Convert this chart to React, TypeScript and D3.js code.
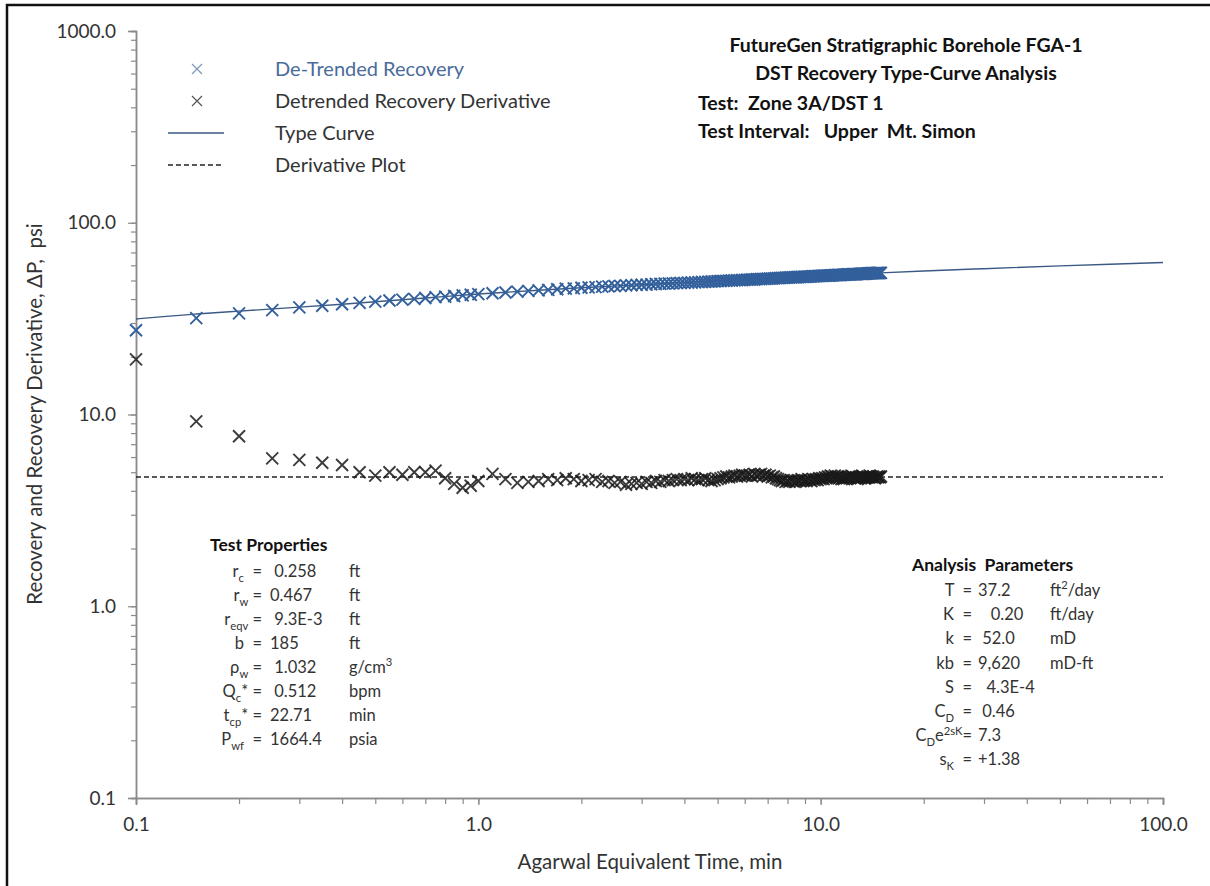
import React, { useEffect, useRef } from 'react';
import * as d3 from 'd3';

const W = 1210;
const H = 886;

// Agarwal equivalent time, min
const recTime = [
  0.1, 0.15, 0.2, 0.25, 0.3, 0.35, 0.4, 0.45, 0.5, 0.55, 0.6, 0.65, 0.7, 0.75, 0.8, 0.85, 0.9, 0.95,
  1.0, 1.1, 1.2, 1.3, 1.4, 1.5, 1.6, 1.7, 1.8, 1.9, 2.0, 2.1, 2.2, 2.3, 2.4, 2.5, 2.6, 2.7, 2.8, 2.9,
  3.0, 3.1, 3.2, 3.3, 3.4, 3.5, 3.6, 3.7, 3.8, 3.9, 4.0, 4.1, 4.2, 4.3, 4.4, 4.5, 4.6, 4.7, 4.8, 4.9,
  5.0, 5.1, 5.2, 5.3, 5.4, 5.5, 5.6, 5.7, 5.8, 5.9, 6.0,
  6.1, 6.2, 6.3, 6.4, 6.5, 6.6, 6.7, 6.8, 6.9, 7.0, 7.1, 7.2, 7.3, 7.4, 7.5, 7.6, 7.7, 7.8, 7.9, 8.0,
  8.1, 8.2, 8.3, 8.4, 8.5, 8.6, 8.7, 8.8, 8.9, 9.0, 9.1, 9.2, 9.3, 9.4, 9.5, 9.6, 9.7, 9.8, 9.9, 10.0,
  10.1, 10.2, 10.3, 10.4, 10.5, 10.6, 10.7, 10.8, 10.9, 11.0, 11.1, 11.2, 11.3, 11.4, 11.5, 11.6, 11.7, 11.8, 11.9, 12.0,
  12.1, 12.2, 12.3, 12.4, 12.5, 12.6, 12.7, 12.8, 12.9, 13.0, 13.1, 13.2, 13.3, 13.4, 13.5, 13.6, 13.7, 13.8, 13.9, 14.0,
  14.1, 14.2, 14.3, 14.4, 14.5, 14.6, 14.7, 14.8, 14.9, 15.0
];

// de-trended recovery, psi
const recDP = [
  27.5, 31.8, 33.7, 35.0, 36.2, 36.9, 37.6, 38.2, 38.8, 39.3, 39.7, 40.1, 40.5, 40.9, 41.2, 41.5, 41.8, 42.1,
  42.4, 42.9, 43.3, 43.7, 44.1, 44.4, 44.7, 45.0, 45.3, 45.5, 45.8, 46.0, 46.2, 46.4, 46.6, 46.8, 46.9, 47.1, 47.2, 47.4,
  47.5, 47.6, 47.8, 47.9, 48.0, 48.1, 48.2, 48.3, 48.4, 48.5, 48.6, 48.7, 48.8, 48.9, 49.0, 49.1, 49.2, 49.3, 49.4, 49.5,
  49.6, 49.7, 49.8, 49.8, 49.9, 50.0, 50.1, 50.2, 50.2, 50.3, 50.4,
  50.5, 50.5, 50.6, 50.6, 50.8, 50.8, 50.9, 51.0, 51.0, 51.1, 51.2, 51.2, 51.3, 51.4, 51.4, 51.5, 51.6, 51.6, 51.7, 51.7,
  51.8, 51.9, 51.9, 52.0, 52.0, 52.1, 52.1, 52.2, 52.2, 52.3, 52.3, 52.4, 52.4, 52.5, 52.6, 52.6, 52.7, 52.7, 52.8, 52.8,
  52.9, 52.9, 53.0, 53.0, 53.0, 53.1, 53.1, 53.2, 53.2, 53.3, 53.3, 53.4, 53.4, 53.4, 53.5, 53.5, 53.6, 53.6, 53.7, 53.7,
  53.7, 53.8, 53.8, 53.9, 53.9, 53.9, 54.0, 54.0, 54.1, 54.1, 54.1, 54.2, 54.2, 54.2, 54.3, 54.3, 54.4, 54.4, 54.4, 54.5,
  54.5, 54.5, 54.6, 54.6, 54.6, 54.7, 54.7, 54.7, 54.8, 54.8
];

// detrended recovery derivative, psi
const derivDP = [
  19.4, 9.2, 7.7, 5.9, 5.8, 5.6, 5.45, 5.0, 4.8, 5.0, 4.85, 5.0, 5.0, 5.1, 4.65, 4.35, 4.15, 4.25,
  4.5, 4.9, 4.6, 4.4, 4.45, 4.5, 4.6, 4.55, 4.65, 4.6, 4.5, 4.55, 4.6, 4.45, 4.5, 4.4, 4.45, 4.3, 4.35, 4.4,
  4.35, 4.45, 4.4, 4.5, 4.45, 4.55, 4.5, 4.55, 4.6, 4.55, 4.6, 4.55, 4.65, 4.6, 4.55, 4.6, 4.65, 4.55, 4.5, 4.55,
  4.6, 4.65, 4.7, 4.75, 4.7, 4.75, 4.8, 4.75, 4.8, 4.85, 4.8,
  4.8, 4.85, 4.75, 4.9, 4.8, 4.85, 4.9, 4.8, 4.85, 4.75, 4.8, 4.7, 4.75, 4.65, 4.6, 4.55, 4.5, 4.55, 4.45, 4.5,
  4.45, 4.55, 4.5, 4.45, 4.5, 4.55, 4.5, 4.6, 4.5, 4.55, 4.5, 4.6, 4.55, 4.5, 4.6, 4.55, 4.6, 4.55, 4.65, 4.6,
  4.65, 4.6, 4.7, 4.65, 4.75, 4.7, 4.8, 4.75, 4.7, 4.8, 4.7, 4.75, 4.65, 4.7, 4.6, 4.65, 4.6, 4.7, 4.65, 4.7,
  4.75, 4.7, 4.8, 4.75, 4.7, 4.65, 4.7, 4.6, 4.65, 4.7, 4.65, 4.7, 4.75, 4.7, 4.65, 4.7, 4.75, 4.7, 4.8, 4.75,
  4.7, 4.75, 4.7, 4.65, 4.7, 4.75, 4.7, 4.75, 4.7, 4.75
];

// type curve
const curveTime = [0.1, 0.12, 0.15, 0.2, 0.3, 0.4, 0.5, 0.7, 1, 1.5, 2, 3, 5, 7, 10, 15, 20, 30, 50, 70, 100];
const curveDP = [31.5, 32.4, 33.4, 34.6, 36.3, 37.6, 38.7, 40.5, 42.5, 44.5, 45.8, 47.5, 49.8, 51.3, 53.0, 54.8, 56.0, 57.6, 59.6, 60.8, 62.0];

// derivative plot (flat)
const derivLineTime = [0.1, 100];
const derivLineDP = [4.72, 4.72];

const xTicks = [0.1, 1, 10, 100];
const yTicks = [0.1, 1, 10, 100, 1000];

const NB = '\u00a0';
const legendLabels = ['De-Trended Recovery', 'Detrended Recovery Derivative', 'Type Curve', 'Derivative Plot'];
const titleLines = ['FutureGen Stratigraphic Borehole FGA-1', 'DST Recovery Type-Curve Analysis'];
const testLines = [`Test:${NB} Zone 3A/DST 1`, `Test Interval:${NB}${NB} Upper${NB} Mt. Simon`];

// [text, 'n' | 'sub' | 'sup'] parts
type Part = [string, string];
const testPropLabels: Part[][] = [
  [['r', 'n'], ['c', 'sub'], [`${NB} =`, 'n']],
  [['r', 'n'], ['w', 'sub'], [' =', 'n']],
  [['r', 'n'], ['eqv', 'sub'], [' =', 'n']],
  [[`b${NB} =`, 'n']],
  [['ρ', 'n'], ['w', 'sub'], [' =', 'n']],
  [['Q', 'n'], ['c', 'sub'], ['* =', 'n']],
  [['t', 'n'], ['cp', 'sub'], ['* =', 'n']],
  [['P', 'n'], ['wf', 'sub'], [`${NB} =`, 'n']]
];
const testPropValues = [`${NB}0.258`, '0.467', `${NB}9.3E-3`, '185', `${NB}1.032`, `${NB}0.512`, '22.71', '1664.4'];
const testPropUnits: Part[][] = [
  [['ft', 'n']], [['ft', 'n']], [['ft', 'n']], [['ft', 'n']],
  [['g/cm', 'n'], ['3', 'sup']], [['bpm', 'n']], [['min', 'n']], [['psia', 'n']]
];

const analysisLabels: Part[][] = [
  [[`T${NB} =`, 'n']],
  [[`K${NB} =`, 'n']],
  [[`k${NB} =`, 'n']],
  [[`kb${NB} =`, 'n']],
  [[`S${NB} =`, 'n']],
  [['C', 'n'], ['D', 'sub'], [`${NB} =`, 'n']],
  [['C', 'n'], ['D', 'sub'], ['e', 'n'], ['2sK', 'sup'], ['=', 'n']],
  [['s', 'n'], ['K', 'sub'], [`${NB} =`, 'n']]
];
const analysisValues = ['37.2', `${NB}${NB}${NB}0.20`, `${NB}52.0`, '9,620', `${NB}${NB}4.3E-4`, `${NB}0.46`, '7.3', '+1.38'];
const analysisUnits: Part[][] = [
  [['ft', 'n'], ['2', 'sup'], ['/day', 'n']], [['ft/day', 'n']], [['mD', 'n']], [['mD-ft', 'n']], [], [], [], []
];

const FONT = 'Lato, "Open Sans", sans-serif';
const TEXT = '#333';
const BLUE = '#33609c';

function addParts(text: any, parts: Part[], size: number) {
  let shift = 0;
  parts.forEach(([s, k]) => {
    const target = k === 'sub' ? size * 0.3 : k === 'sup' ? -size * 0.4 : 0;
    const t = text.append('tspan').attr('dy', target - shift).text(s);
    if (k !== 'n') t.attr('font-size', size * 0.68);
    shift = target;
  });
}

export default function App() {
  const ref = useRef<SVGSVGElement>(null);

  useEffect(() => {
    const svg = d3.select(ref.current);
    svg.selectAll('*').remove();

    const x = d3.scaleLog().domain([0.1, 100]).range([136, 1163]);
    const y = d3.scaleLog().domain([0.1, 1000]).range([798, 31]);

    svg.append('rect').attr('width', W).attr('height', H).attr('fill', '#fff');
    // frame
    svg.append('path').attr('d', `M7,${H}V5H${W}`).attr('fill', 'none').attr('stroke', '#111').attr('stroke-width', 2.5);

    // axes: minor ticks
    const gxMinor = svg.append('g').attr('transform', `translate(0,${y(0.1)})`)
      .call(d3.axisBottom(x).tickValues(x.ticks()).tickSize(6).tickFormat(() => ''));
    const gyMinor = svg.append('g').attr('transform', `translate(${x(0.1)},0)`)
      .call(d3.axisLeft(y).tickValues(y.ticks()).tickSize(5).tickFormat(() => ''));
    // major ticks with labels
    const gx = svg.append('g').attr('transform', `translate(0,${y(0.1)})`)
      .call(d3.axisBottom(x).tickValues(xTicks).tickSize(7).tickPadding(13).tickFormat(d3.format('.1f') as any));
    const gy = svg.append('g').attr('transform', `translate(${x(0.1)},0)`)
      .call(d3.axisLeft(y).tickValues(yTicks).tickSize(8).tickPadding(12).tickFormat(d3.format('.1f') as any));

    [gxMinor, gyMinor, gx, gy].forEach(g => {
      g.select('.domain').attr('stroke', '#8a8a8a').attr('stroke-width', 1.5);
      g.selectAll('.tick line').attr('stroke', '#8a8a8a').attr('stroke-width', 1.2);
      g.selectAll('.tick text').attr('fill', TEXT).attr('font-family', FONT).attr('font-size', 19);
    });

    // axis titles
    svg.append('text').attr('x', 650).attr('y', 869).attr('text-anchor', 'middle')
      .attr('font-family', FONT).attr('font-size', 20.5).attr('fill', TEXT)
      .text('Agarwal Equivalent Time, min');
    svg.append('text').attr('transform', 'translate(42,414) rotate(-90)').attr('text-anchor', 'middle')
      .attr('font-family', FONT).attr('font-size', 20.5).attr('fill', TEXT)
      .text(`Recovery and Recovery Derivative, ΔP,${NB} psi`);

    // type curve + derivative plot line
    const line = d3.line<number>()
      .x((_, i) => x(curveTime[i]))
      .y(d => y(d))
      .curve(d3.curveMonotoneX);
    svg.append('path').attr('d', line(curveDP)).attr('fill', 'none').attr('stroke', '#3a5a85').attr('stroke-width', 1.4);

    const dline = d3.line<number>().x((_, i) => x(derivLineTime[i])).y(d => y(d));
    svg.append('path').attr('d', dline(derivLineDP)).attr('fill', 'none').attr('stroke', '#222')
      .attr('stroke-width', 1.3).attr('stroke-dasharray', '5,3');

    const cross = 'M-6,-6L6,6M-6,6L6,-6';
    svg.append('g').selectAll('path').data(recDP).enter().append('path')
      .attr('transform', (d, i) => `translate(${x(recTime[i])},${y(d)})`)
      .attr('d', cross).attr('fill', 'none').attr('stroke', BLUE).attr('stroke-width', 1.9);
    svg.append('g').selectAll('path').data(derivDP).enter().append('path')
      .attr('transform', (d, i) => `translate(${x(recTime[i])},${y(d)})`)
      .attr('d', cross).attr('fill', 'none').attr('stroke', '#1a1a1a').attr('stroke-opacity', 0.85).attr('stroke-width', 1.9);

    // legend
    const lg = svg.append('g').attr('font-family', FONT).attr('font-size', 20);
    const rowY = (i: number) => 69 + i * 32;
    lg.append('path').attr('transform', `translate(197,${rowY(0)})`).attr('d', 'M-5,-5L5,5M-5,5L5,-5')
      .attr('stroke', '#7a98bd').attr('stroke-width', 1.2);
    lg.append('path').attr('transform', `translate(197,${rowY(1)})`).attr('d', 'M-5,-5L5,5M-5,5L5,-5')
      .attr('stroke', '#555').attr('stroke-width', 1.2);
    lg.append('line').attr('x1', 168).attr('x2', 224).attr('y1', rowY(2)).attr('y2', rowY(2))
      .attr('stroke', '#3a5a85').attr('stroke-width', 1.4);
    lg.append('line').attr('x1', 168).attr('x2', 224).attr('y1', rowY(3)).attr('y2', rowY(3))
      .attr('stroke', '#222').attr('stroke-width', 1.3).attr('stroke-dasharray', '5,3');
    legendLabels.forEach((s, i) => {
      lg.append('text').attr('x', 275).attr('y', rowY(i)).attr('dy', '0.35em')
        .attr('fill', i === 0 ? '#4a6c9b' : TEXT).text(s);
    });

    // title block
    const tg = svg.append('g').attr('font-family', FONT).attr('font-weight', 'bold').attr('font-size', 19.5)
      .attr('fill', '#111');
    titleLines.forEach((s, i) => {
      tg.append('text').attr('x', 906).attr('y', 52 + i * 28).attr('text-anchor', 'middle').text(s);
    });
    testLines.forEach((s, i) => {
      tg.append('text').attr('x', 698).attr('y', 110 + i * 28).text(s);
    });

    // test properties
    const pg = svg.append('g').attr('font-family', FONT).attr('font-size', 16.5).attr('fill', TEXT);
    pg.append('text').attr('x', 210).attr('y', 551).attr('font-weight', 'bold').attr('font-size', 17.5)
      .attr('fill', '#111').text('Test Properties');
    testPropLabels.forEach((parts, i) => {
      const yy = 577 + i * 24;
      addParts(pg.append('text').attr('x', 262).attr('y', yy).attr('text-anchor', 'end'), parts, 16.5);
      pg.append('text').attr('x', 270).attr('y', yy).text(testPropValues[i]);
      addParts(pg.append('text').attr('x', 349).attr('y', yy), testPropUnits[i], 16.5);
    });

    // analysis parameters
    const ag = svg.append('g').attr('font-family', FONT).attr('font-size', 16.5).attr('fill', TEXT);
    ag.append('text').attr('x', 912).attr('y', 571).attr('font-weight', 'bold').attr('font-size', 17.5)
      .attr('fill', '#111').text(`Analysis${NB} Parameters`);
    analysisLabels.forEach((parts, i) => {
      const yy = 596 + i * 24.2;
      addParts(ag.append('text').attr('x', 972).attr('y', yy).attr('text-anchor', 'end'), parts, 16.5);
      ag.append('text').attr('x', 978).attr('y', yy).text(analysisValues[i]);
      if (analysisUnits[i].length) addParts(ag.append('text').attr('x', 1050).attr('y', yy), analysisUnits[i], 16.5);
    });
  }, []);

  return (
    <svg ref={ref} width={W} height={H}
      style={{ position: 'absolute', left: 0, top: 0, display: 'block' }} />
  );
}
